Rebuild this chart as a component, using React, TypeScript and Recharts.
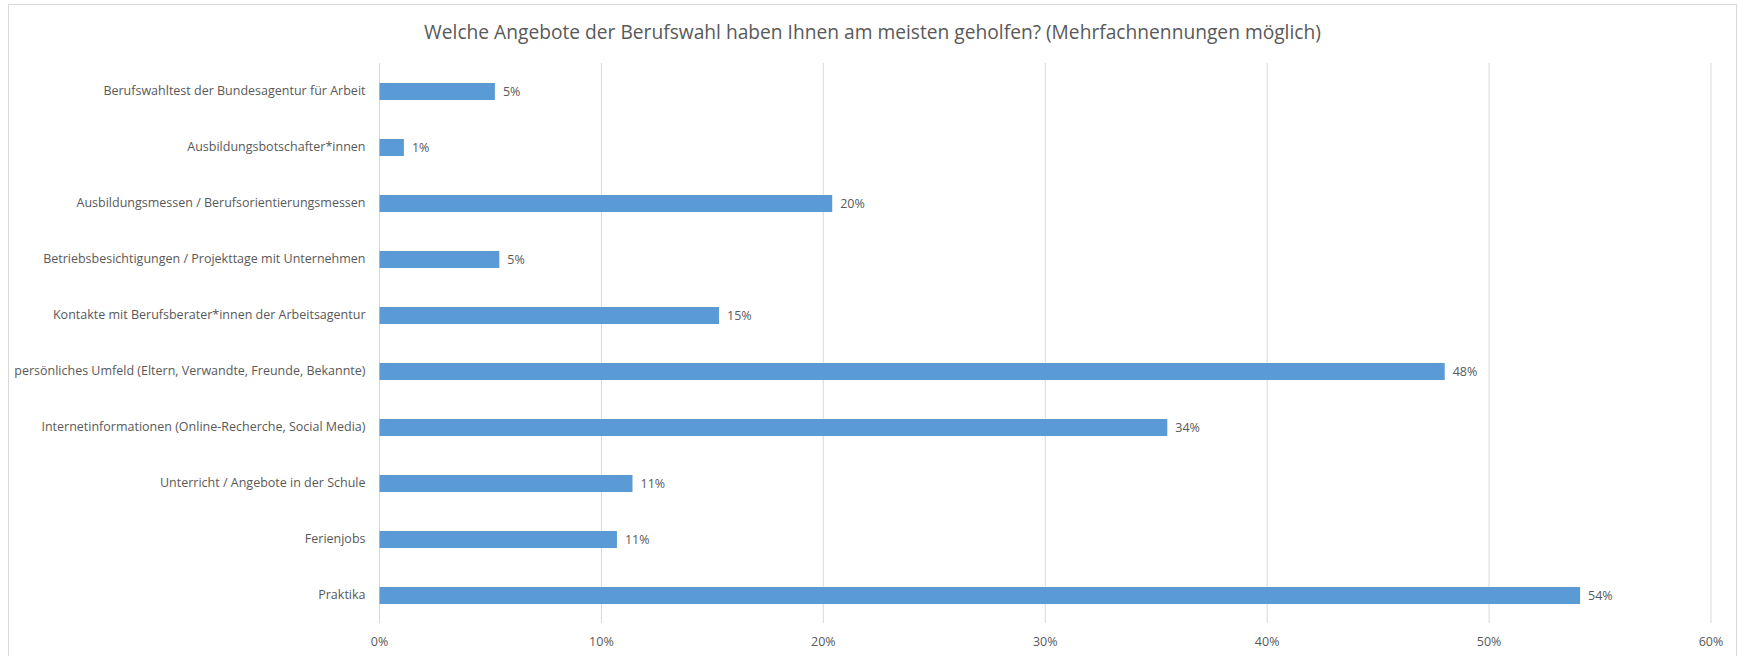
import { BarChart, Bar, XAxis, YAxis, CartesianGrid, LabelList } from 'recharts';

const TITLE =
  'Welche Angebote der Berufswahl haben Ihnen am meisten geholfen? (Mehrfachnennungen möglich)';

const categories = [
  'Berufswahltest der Bundesagentur für Arbeit',
  'Ausbildungsbotschafter*innen',
  'Ausbildungsmessen / Berufsorientierungsmessen',
  'Betriebsbesichtigungen / Projekttage mit Unternehmen',
  'Kontakte mit Berufsberater*innen der Arbeitsagentur',
  'persönliches Umfeld (Eltern, Verwandte, Freunde, Bekannte)',
  'Internetinformationen (Online-Recherche, Social Media)',
  'Unterricht / Angebote in der Schule',
  'Ferienjobs',
  'Praktika',
];

// share of answers in percent (bar lengths as drawn)
const values = [5.2, 1.1, 20.4, 5.4, 15.3, 48.0, 35.5, 11.4, 10.7, 54.1];
const labels = ['5%', '1%', '20%', '5%', '15%', '48%', '34%', '11%', '11%', '54%'];

const xTicks = [0, 10, 20, 30, 40, 50, 60];

const FONT = '"Open Sans", sans-serif';
const TEXT = '#595959';

const data = categories.map((name, i) => ({ name, value: values[i], label: labels[i] }));

// single-line category label (recharts would wrap the long one)
function CategoryTick(props: any) {
  const { x, y, payload } = props;
  return (
    <text
      x={x}
      y={y}
      dy="0.355em"
      textAnchor="end"
      fill={TEXT}
      fontSize={12.5}
      fontFamily={FONT}
    >
      {payload.value}
    </text>
  );
}

export default function App() {
  return (
    <div
      style={{
        position: 'absolute',
        left: 0,
        top: 0,
        width: 1739,
        height: 656,
        overflow: 'hidden',
        background: '#fff',
        fontFamily: FONT,
      }}
    >
      <div
        style={{
          position: 'absolute',
          left: 8,
          top: 4,
          width: 1727,
          height: 700,
          border: '1px solid #d9d9d9',
        }}
      />
      <div
        style={{
          position: 'absolute',
          left: 8,
          width: 1729,
          top: 18,
          textAlign: 'center',
          fontSize: 19.2,
          color: TEXT,
          lineHeight: '28px',
        }}
      >
        {TITLE}
      </div>
      <div style={{ position: 'absolute', left: 0, top: 0 }}>
        <BarChart
          width={1739}
          height={656}
          data={data}
          layout="vertical"
          margin={{ top: 63, right: 28, bottom: 0, left: 0 }}
          barCategoryGap={0}
        >
          <CartesianGrid horizontal={false} stroke="#d9d9d9" />
          <XAxis
            type="number"
            domain={[0, 60]}
            ticks={xTicks}
            tickFormatter={(v: number) => `${v}%`}
            axisLine={false}
            tickLine={false}
            height={33}
            tickMargin={8}
            tick={{ fontSize: 12.5, fill: TEXT, fontFamily: FONT }}
          />
          <YAxis
            type="category"
            dataKey="name"
            width={379.5}
            axisLine={false}
            tickLine={false}
            tickMargin={8}
            interval={0}
            tick={<CategoryTick />}
          />
          <Bar dataKey="value" fill="#5b9bd5" barSize={17} isAnimationActive={false}>
            <LabelList
              dataKey="label"
              position="right"
              offset={8}
              fill={TEXT}
              fontSize={12.5}
              fontFamily={FONT}
            />
          </Bar>
        </BarChart>
      </div>
    </div>
  );
}
